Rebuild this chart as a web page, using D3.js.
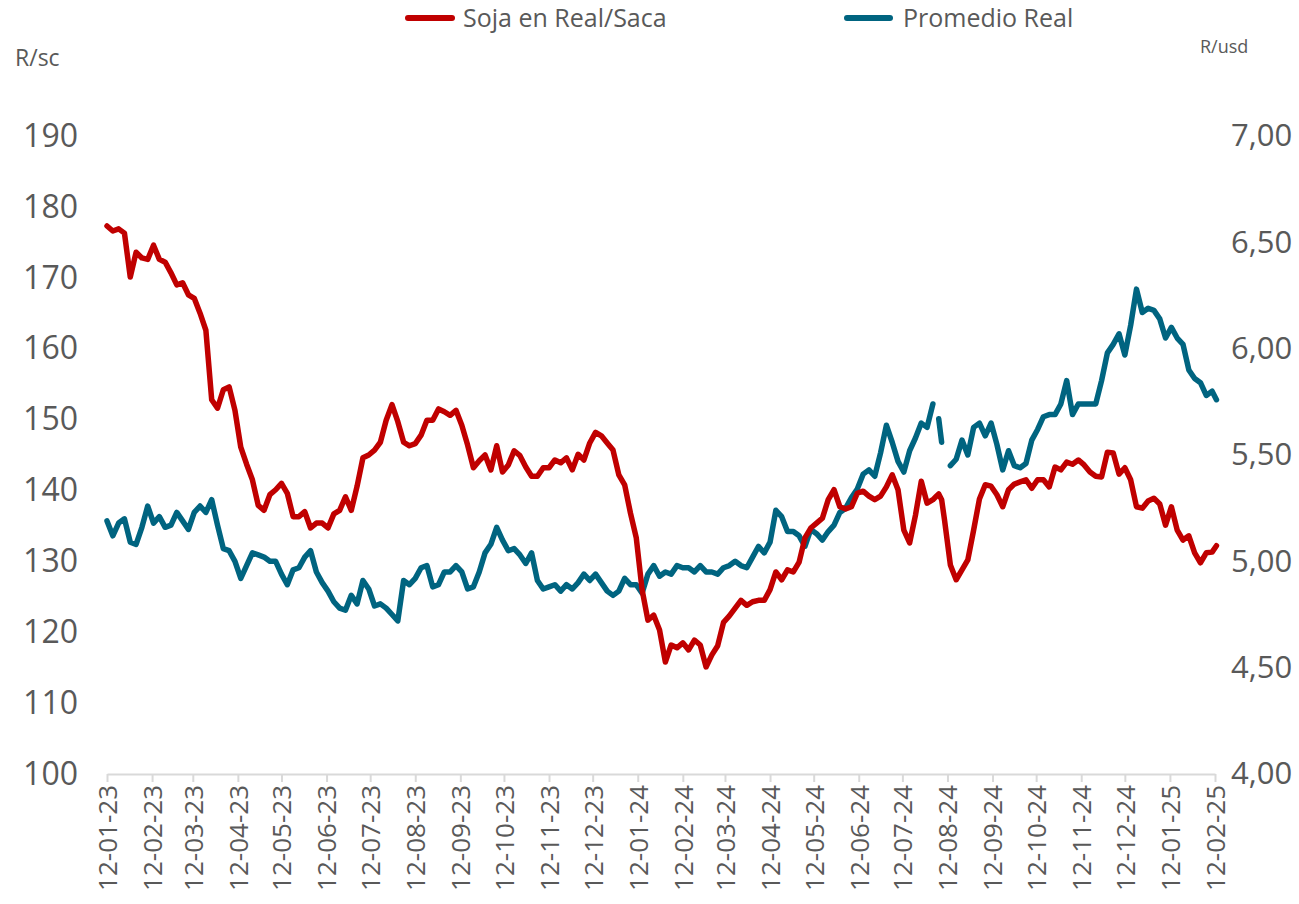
<!DOCTYPE html>
<html>
<head>
<meta charset="utf-8">
<script src="https://cdn.jsdelivr.net/npm/d3@7"></script>
<style>
  html, body { margin: 0; padding: 0; background: #ffffff; }
  svg { display: block; font-family: "Open Sans", "Noto Sans", sans-serif; }
</style>
</head>
<body>
<svg id="chart" width="1299" height="904"></svg>
<script>
// ---------------- DATA ----------------
const dates = [
"2023-01-12","2023-01-16","2023-01-20","2023-01-24","2023-01-28","2023-02-01","2023-02-05","2023-02-09","2023-02-13","2023-02-17",
"2023-02-21","2023-02-25","2023-03-01","2023-03-05","2023-03-09","2023-03-13","2023-03-17","2023-03-21","2023-03-25","2023-03-29",
"2023-04-02","2023-04-06","2023-04-10","2023-04-14","2023-04-18","2023-04-22","2023-04-26","2023-04-30","2023-05-04","2023-05-08",
"2023-05-12","2023-05-16","2023-05-20","2023-05-24","2023-05-28","2023-06-01","2023-06-05","2023-06-09","2023-06-13","2023-06-17",
"2023-06-21","2023-06-25","2023-06-29","2023-07-03","2023-07-07","2023-07-11","2023-07-15","2023-07-19","2023-07-23","2023-07-27",
"2023-07-31","2023-08-04","2023-08-08","2023-08-12","2023-08-16","2023-08-20","2023-08-24","2023-08-28","2023-09-01","2023-09-05",
"2023-09-09","2023-09-13","2023-09-17","2023-09-21","2023-09-25","2023-09-29","2023-10-03","2023-10-07","2023-10-11","2023-10-15",
"2023-10-19","2023-10-23","2023-10-27","2023-10-31","2023-11-04","2023-11-08","2023-11-12","2023-11-16","2023-11-20","2023-11-24",
"2023-11-28","2023-12-02","2023-12-06","2023-12-10","2023-12-14","2023-12-18","2023-12-22","2023-12-26","2023-12-30","2024-01-03",
"2024-01-07","2024-01-11","2024-01-15","2024-01-19","2024-01-23","2024-01-27","2024-01-31","2024-02-04","2024-02-08","2024-02-12",
"2024-02-16","2024-02-20","2024-02-24","2024-02-28","2024-03-03","2024-03-07","2024-03-11","2024-03-15","2024-03-19","2024-03-23",
"2024-03-27","2024-03-31","2024-04-04","2024-04-08","2024-04-12","2024-04-16","2024-04-20","2024-04-24","2024-04-28","2024-05-02",
"2024-05-06","2024-05-10","2024-05-14","2024-05-18","2024-05-22","2024-05-26","2024-05-30","2024-06-03","2024-06-07","2024-06-11",
"2024-06-15","2024-06-19","2024-06-23","2024-06-27","2024-07-01","2024-07-05","2024-07-09","2024-07-13","2024-07-17","2024-07-21",
"2024-07-25","2024-07-29","2024-08-02","2024-08-04","2024-08-06","2024-08-08","2024-08-10","2024-08-14","2024-08-18","2024-08-22",
"2024-08-26","2024-08-30","2024-09-03","2024-09-07","2024-09-11","2024-09-15","2024-09-19","2024-09-23","2024-09-27","2024-10-01",
"2024-10-05","2024-10-09","2024-10-13","2024-10-17","2024-10-21","2024-10-25","2024-10-29","2024-11-02","2024-11-06","2024-11-10",
"2024-11-14","2024-11-18","2024-11-22","2024-11-26","2024-11-30","2024-12-04","2024-12-08","2024-12-12","2024-12-16","2024-12-20",
"2024-12-24","2024-12-28","2025-01-01","2025-01-05","2025-01-09","2025-01-13","2025-01-17","2025-01-21","2025-01-25","2025-01-29",
"2025-02-02","2025-02-06","2025-02-10","2025-02-13"
];

// Soja en Real/Saca (R/sc, left axis)
const sojaReal = [
177.3,176.6,176.9,176.3,170.1,173.6,172.8,172.6,174.6,172.6,
172.2,170.7,169.0,169.3,167.6,167.1,165.0,162.6,152.8,151.6,
154.2,154.6,151.3,146.1,143.7,141.5,137.9,137.2,139.4,140.1,
141.0,139.6,136.3,136.3,137.0,134.7,135.4,135.4,134.7,136.7,
137.2,139.1,137.2,140.6,144.6,145.0,145.7,146.8,149.9,152.1,
149.7,146.8,146.3,146.6,147.8,149.9,149.9,151.5,151.1,150.6,
151.3,149.2,146.4,143.2,144.2,145.0,142.9,146.3,142.6,143.6,
145.6,144.9,143.3,142.0,142.0,143.2,143.2,144.3,143.9,144.6,
142.9,145.1,144.3,146.7,148.2,147.7,146.7,145.7,142.2,140.8,
136.8,133.3,126.0,121.7,122.4,120.3,115.8,118.2,117.8,118.5,
117.5,118.9,118.2,115.1,116.8,118.1,121.4,122.3,123.4,124.5,
123.8,124.3,124.5,124.5,126.0,128.5,127.4,128.8,128.5,129.9,
133.3,134.7,135.4,136.1,138.7,140.1,137.7,137.4,137.7,139.6,
139.9,139.2,138.7,139.2,140.5,142.2,140.1,134.4,132.6,136.5,
141.3,138.2,138.7,139.1,139.5,138.7,135.8,129.5,127.4,128.8,
130.2,134.4,138.8,140.8,140.6,139.4,137.7,140.1,140.9,141.2,
141.5,140.3,141.5,141.5,140.5,143.3,142.9,144.0,143.7,144.3,
143.6,142.6,142.0,141.9,145.4,145.3,142.3,143.2,141.5,137.7,
137.5,138.5,138.9,138.1,135.1,137.7,134.4,133.0,133.6,131.2,
129.8,131.2,131.3,132.2
];

// Promedio Real (R/usd, right axis); null = no data
const promedioReal = [
5.19,5.12,5.18,5.20,5.09,5.08,5.16,5.26,5.18,5.21,
5.16,5.17,5.23,5.19,5.15,5.23,5.26,5.23,5.29,5.17,
5.06,5.05,5.00,4.92,4.98,5.04,5.03,5.02,5.00,5.00,
4.94,4.89,4.96,4.97,5.02,5.05,4.95,4.90,4.86,4.81,
4.78,4.77,4.84,4.80,4.91,4.87,4.79,4.80,4.78,4.75,
4.72,4.91,4.89,4.92,4.97,4.98,4.88,4.89,4.95,4.95,
4.98,4.95,4.87,4.88,4.95,5.04,5.08,5.16,5.10,5.05,
5.06,5.03,4.99,5.04,4.91,4.87,4.88,4.89,4.86,4.89,
4.87,4.90,4.94,4.91,4.94,4.90,4.86,4.84,4.86,4.92,
4.89,4.89,4.85,4.94,4.98,4.93,4.95,4.94,4.98,4.97,
4.97,4.95,4.98,4.95,4.95,4.94,4.97,4.98,5.00,4.98,
4.97,5.02,5.07,5.04,5.09,5.24,5.21,5.14,5.14,5.12,
5.07,5.15,5.13,5.10,5.14,5.17,5.23,5.25,5.30,5.34,
5.41,5.43,5.40,5.51,5.64,5.56,5.47,5.42,5.52,5.58,
5.65,5.63,5.74,null,5.67,5.56,null,5.45,5.48,5.57,
5.50,5.63,5.65,5.59,5.65,5.55,5.43,5.52,5.45,5.44,
5.46,5.57,5.62,5.68,5.69,5.69,5.74,5.85,5.69,5.74,
5.74,5.74,5.74,5.85,5.98,6.02,6.07,5.97,6.11,6.28,
6.17,6.19,6.18,6.14,6.05,6.10,6.05,6.02,5.90,5.86,
5.84,5.78,5.80,5.76
];

const monthTicks = [
"2023-01-12","2023-02-12","2023-03-12","2023-04-12","2023-05-12","2023-06-12","2023-07-12","2023-08-12","2023-09-12",
"2023-10-12","2023-11-12","2023-12-12","2024-01-12","2024-02-12","2024-03-12","2024-04-12","2024-05-12","2024-06-12",
"2024-07-12","2024-08-12","2024-09-12","2024-10-12","2024-11-12","2024-12-12","2025-01-12","2025-02-12"
];
const leftTicks = [100,110,120,130,140,150,160,170,180,190];
const rightTicks = [4.0,4.5,5.0,5.5,6.0,6.5,7.0];
const seriesNames = ["Soja en Real/Saca","Promedio Real"];
const seriesColors = ["#C00000","#006480"];

// ---------------- CHART ----------------
const parse = d3.timeParse("%Y-%m-%d");
const fmtDate = d3.timeFormat("%d-%m-%y");
const svg = d3.select("#chart");

const plot = {left: 107, right: 1215, top: 136, bottom: 774};
const x = d3.scaleTime()
  .domain([parse("2023-01-12"), parse("2025-02-12")])
  .range([plot.left, plot.right]);
const yL = d3.scaleLinear().domain([100,190]).range([plot.bottom, plot.top]);
const yR = d3.scaleLinear().domain([4,7]).range([plot.bottom, plot.top]);

const textColor = "#595959";

// Left axis
const gL = svg.append("g").attr("transform", `translate(${78},0)`)
  .call(d3.axisLeft(yL).tickValues(leftTicks).tickSize(0).tickPadding(0).tickFormat(d3.format("d")));
gL.select(".domain").remove();
gL.selectAll("text").attr("fill", textColor).style("font-size","32px").style("font-family","'Open Sans'");

// Right axis
const gR = svg.append("g").attr("transform", `translate(${1231},0)`)
  .call(d3.axisRight(yR).tickValues(rightTicks).tickSize(0).tickPadding(0)
    .tickFormat(d => d.toFixed(2).replace(".", ",")));
gR.select(".domain").remove();
gR.selectAll("text").attr("fill", textColor).style("font-size","31px").style("font-family","'Open Sans'");

// Bottom axis
const gX = svg.append("g").attr("transform", `translate(0,${plot.bottom})`)
  .call(d3.axisBottom(x).tickValues(monthTicks.map(parse)).tickSize(8).tickSizeOuter(0).tickFormat(fmtDate));
gX.select(".domain").attr("stroke", "#d9d9d9").attr("stroke-width", 2);
gX.selectAll(".tick line").attr("stroke", "#d9d9d9").attr("stroke-width", 2);
gX.selectAll("text")
  .attr("fill", textColor)
  .style("font-size","26px").style("font-family","'Open Sans'")
  .style("text-anchor","end")
  .attr("transform","rotate(-90)")
  .attr("x", -11).attr("y", 0).attr("dy","0.36em");

// Lines
const sojaData = dates.map((d,i) => ({date: parse(d), v: sojaReal[i]}));
const realData = dates.map((d,i) => ({date: parse(d), v: promedioReal[i]}));

const lineL = d3.line().defined(d => d.v != null).x(d => x(d.date)).y(d => yL(d.v));
const lineR = d3.line().defined(d => d.v != null).x(d => x(d.date)).y(d => yR(d.v));

svg.append("path").datum(realData)
  .attr("d", lineR).attr("fill","none").attr("stroke", seriesColors[1])
  .attr("stroke-width", 5.5).attr("stroke-linejoin","round").attr("stroke-linecap","round");
svg.append("path").datum(sojaData)
  .attr("d", lineL).attr("fill","none").attr("stroke", seriesColors[0])
  .attr("stroke-width", 5.5).attr("stroke-linejoin","round").attr("stroke-linecap","round");

// Axis unit labels
svg.append("text").attr("x", 15).attr("y", 66).text("R/sc")
  .attr("fill", textColor).style("font-size","23px");
svg.append("text").attr("x", 1200).attr("y", 53).text("R/usd")
  .attr("fill", textColor).style("font-size","18px");

// Legend
const legendPos = [{x1: 408, x2: 452, tx: 463}, {x1: 847, x2: 890, tx: 903}];
seriesNames.forEach((name, i) => {
  const p = legendPos[i];
  svg.append("line").attr("x1", p.x1).attr("x2", p.x2).attr("y1", 18).attr("y2", 18)
    .attr("stroke", seriesColors[i]).attr("stroke-width", 6).attr("stroke-linecap","round");
  svg.append("text").attr("x", p.tx).attr("y", 27).text(name)
    .attr("fill", textColor).style("font-size","25px");
});
</script>
</body>
</html>
